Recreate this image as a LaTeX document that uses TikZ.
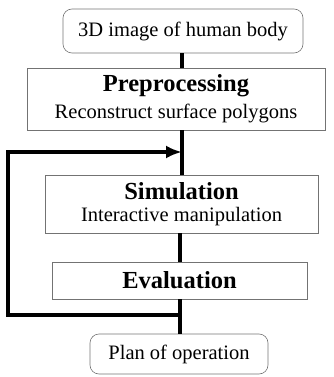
\documentclass[tikz,border=0pt]{standalone}
\usepackage{fontspec}
\setmainfont{Liberation Serif}
\usetikzlibrary{arrows.meta}
\begin{document}
\begin{tikzpicture}[x=1pt,y=-1pt,
  box/.style={draw=black!55, line width=0.6pt, inner sep=0pt, align=center},
  roundbox/.style={box, rounded corners=9pt},
  flow/.style={line width=3.2pt}
]
\useasboundingbox (0,0) rectangle (334,377);

% process boxes
\node[roundbox, minimum width=240pt, minimum height=44pt, font=\fontsize{20.5}{22}\selectfont]
  (input) at (183,31) {3D image of human body};
\node[box, minimum width=298pt, minimum height=62pt] (pre) at (176,99)
  {{\fontsize{24.5}{26}\selectfont\bfseries Preprocessing}\\[6pt]{\fontsize{20.5}{22}\selectfont Reconstruct surface polygons}};
\node[box, minimum width=273pt, minimum height=58pt] (sim) at (181.5,204)
  {{\fontsize{24.5}{26}\selectfont\bfseries Simulation}\\[6pt]{\fontsize{20.5}{22}\selectfont Interactive manipulation}};
\node[box, minimum width=255pt, minimum height=37pt, font=\fontsize{24.5}{26}\selectfont\bfseries]
  (eval) at (179.5,280.5) {Evaluation};
\node[roundbox, minimum width=178pt, minimum height=40pt, font=\fontsize{20.5}{22}\selectfont]
  (plan) at (179,354) {Plan of operation};

% trunk and feedback loop
\coordinate (upper) at (182,0);
\coordinate (lower) at (180,0);
\coordinate (split) at (180,315);
\coordinate (loopB) at (8,315);
\coordinate (loopT) at (8,152);
\coordinate (merge) at (182,152);

\draw[flow] (input.south -| upper) -- (pre.north -| upper);
\draw[flow] (pre.south -| upper) -- (sim.north -| upper);
\draw[flow] (sim.south -| lower) -- (eval.north -| lower);
\draw[flow] (eval.south -| lower) -- (plan.north -| lower);
\draw[flow, line cap=rect, -{Latex[length=16pt,width=13pt]}] (split) -- (loopB) -- (loopT) -- (merge);
\end{tikzpicture}
\end{document}
